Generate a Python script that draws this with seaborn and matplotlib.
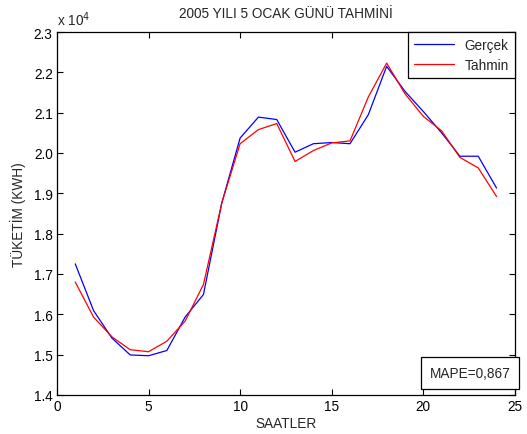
import numpy as np
import pandas as pd
import seaborn as sns
import matplotlib
matplotlib.use("Agg")
import matplotlib.pyplot as plt
from matplotlib.ticker import FuncFormatter, MultipleLocator

hours = list(range(1, 25))
gercek = [17250, 16090, 15410, 14990, 14970, 15100, 15930, 16490, 18760, 20370,
          20890, 20830, 20020, 20230, 20260, 20230, 20950, 22150, 21530, 21030,
          20500, 19920, 19920, 19130]
tahmin = [16800, 15930, 15440, 15120, 15070, 15330, 15830, 16740, 18760, 20230,
          20580, 20730, 19790, 20060, 20250, 20300, 21390, 22230, 21470, 20910,
          20550, 19890, 19630, 18920]
series_names = ["Gerçek", "Tahmin"]
title = "2005 YILI 5 OCAK GÜNÜ TAHMİNİ"
xlabel = "SAATLER"
ylabel = "TÜKETİM (KWH)"
mape_text = "MAPE=0,867"

df = pd.DataFrame({
    "Saat": hours * 2,
    "Deger": gercek + tahmin,
    "Seri": [series_names[0]] * len(hours) + [series_names[1]] * len(hours),
})

FS = 9.8
sns.set_style("white")
plt.rcParams["font.family"] = ["Liberation Sans", "DejaVu Sans"]
plt.rcParams["font.size"] = FS

fig = plt.figure(figsize=(5.27, 4.35), dpi=100)
ax = fig.add_axes([0.108, 0.09, 0.869, 0.834])

sns.lineplot(data=df, x="Saat", y="Deger", hue="Seri",
             palette={"Gerçek": "#0000ff", "Tahmin": "#ff0000"},
             linewidth=0.9, ax=ax, legend=True)

ax.set_xlim(0, 25)
ax.set_ylim(14000, 23000)
ax.xaxis.set_major_locator(MultipleLocator(5))
ax.yaxis.set_major_locator(MultipleLocator(1000))
ax.yaxis.set_major_formatter(FuncFormatter(lambda v, p: f"{v/1e4:.1f}"))
ax.tick_params(direction="in", length=4, width=0.8, top=True, right=True,
               bottom=True, left=True, labelsize=FS, colors="black", pad=3)
for s in ax.spines.values():
    s.set_visible(True)
    s.set_color("black")
    s.set_linewidth(0.9)

ax.set_title(title, fontsize=FS, pad=11)
ax.set_xlabel(xlabel, fontsize=FS, labelpad=2)
ax.set_ylabel(ylabel, fontsize=FS, labelpad=6)
ax.text(0.0, 1.012, r"x 10$^{4}$", transform=ax.transAxes, fontsize=FS,
        ha="left", va="bottom")

leg = ax.legend(loc="upper right", frameon=True, fancybox=False,
                edgecolor="black", framealpha=1, fontsize=FS,
                handlelength=2.9, borderaxespad=0.0, borderpad=0.45,
                labelspacing=0.4)
leg.get_frame().set_linewidth(0.9)

ax.text(0.99, 0.04, mape_text, transform=ax.transAxes, ha="right", va="bottom",
        fontsize=FS,
        bbox=dict(boxstyle="square,pad=0.65", facecolor="white", edgecolor="black",
                  linewidth=0.9))

fig.savefig("out.png", dpi=100, facecolor="white")
